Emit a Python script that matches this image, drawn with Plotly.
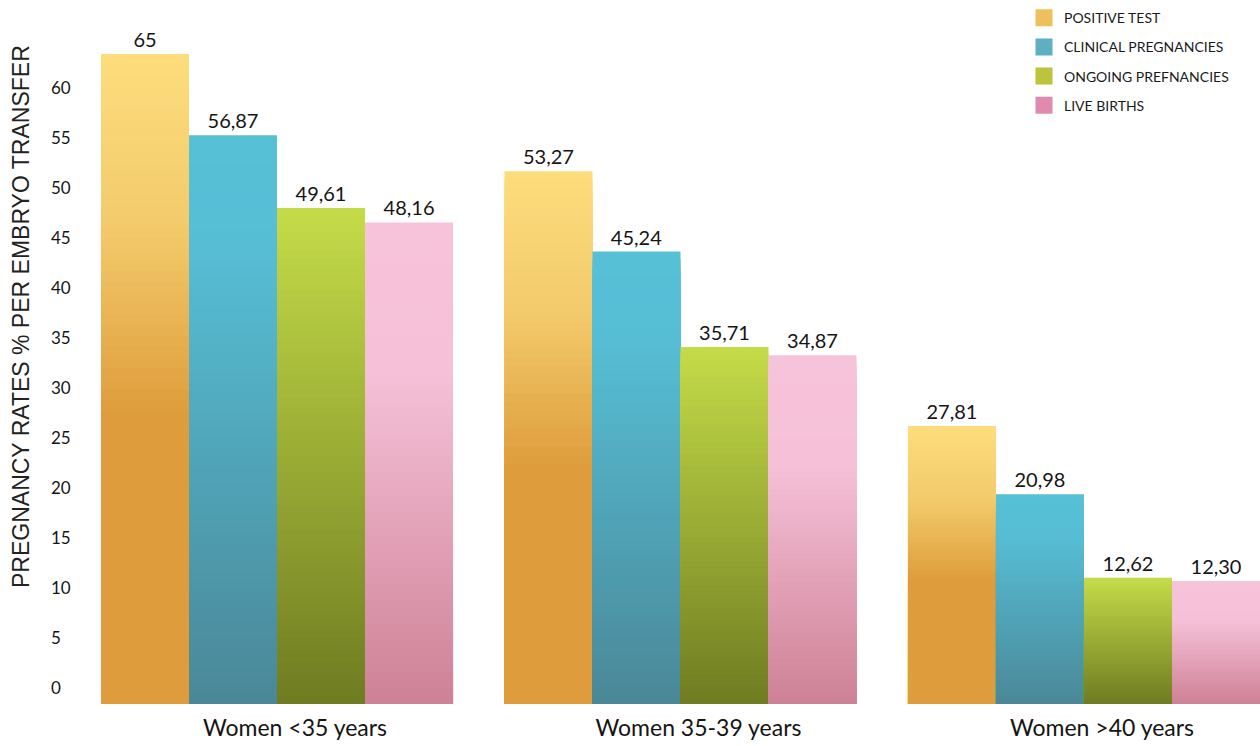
import plotly.graph_objects as go

# ---------------- data ----------------
categories = ["Women <35 years", "Women 35-39 years", "Women >40 years"]
positive_test = [65, 53.27, 27.81]
clinical_pregnancies = [56.87, 45.24, 20.98]
ongoing_pregnancies = [49.61, 35.71, 12.62]
live_births = [48.16, 34.87, 12.30]
series_names = ["POSITIVE TEST", "CLINICAL PREGNANCIES", "ONGOING PREFNANCIES", "LIVE BIRTHS"]
y_tick_values = [0, 5, 10, 15, 20, 25, 30, 35, 40, 45, 50, 55, 60]
y_title = "PREGNANCY RATES % PER EMBRYO TRANSFER"

series_values = [positive_test, clinical_pregnancies, ongoing_pregnancies, live_births]

# ---------------- styles ----------------
# vertical gradient stops: (fraction from bar top, colour)
gradients = [
    [(0.0, "#FDDC7C"), (0.25, "#F3CB6C"), (0.55, "#DE9C3C"), (1.0, "#DE9C3C")],
    [(0.0, "#56C0D7"), (0.2, "#56BDD4"), (1.0, "#4A8797")],
    [(0.0, "#C4DB48"), (1.0, "#6E7B21")],
    [(0.0, "#F7C3DA"), (0.3, "#F6C1D8"), (1.0, "#CD8095")],
]
legend_colors = ["#EFBF5E", "#5EAFC0", "#BCC43A", "#E18AB0"]
N_BANDS = 60
FONT_NUM = "Lato, 'Open Sans', sans-serif"


def hex_to_rgb(h):
    h = h.lstrip("#")
    return tuple(int(h[i:i + 2], 16) for i in (0, 2, 4))


def grad_color(stops, f):
    for (f0, c0), (f1, c1) in zip(stops[:-1], stops[1:]):
        if f0 <= f <= f1:
            t = 0 if f1 == f0 else (f - f0) / (f1 - f0)
            a, b = hex_to_rgb(c0), hex_to_rgb(c1)
            r, g, bb = (round(a[i] + (b[i] - a[i]) * t) for i in range(3))
            return f"rgb({r},{g},{bb})"
    return stops[-1][1]


def fmt(v):
    if float(v).is_integer():
        return str(int(v))
    return f"{v:.2f}".replace(".", ",")


fig = go.Figure()

for si, (name, vals) in enumerate(zip(series_names, series_values)):
    grp = f"s{si}"
    for k in range(N_BANDS):
        frac = k / N_BANDS
        keep = 1 - frac
        fig.add_trace(go.Bar(
            x=categories,
            y=[v * keep for v in vals],
            offsetgroup=grp,
            legendgroup=grp,
            showlegend=False,
            marker=dict(color=grad_color(gradients[si], frac), line=dict(width=0)),
            text=[fmt(v) for v in vals] if k == 0 else None,
            textposition="outside" if k == 0 else "none",
            textfont=dict(family=FONT_NUM, size=20, color="#151515"),
            cliponaxis=False,
            hoverinfo="skip" if k > 0 else "x+y+name",
            name=name,
        ))
    # legend entry
    fig.add_trace(go.Bar(
        x=[None], y=[None],
        name=name,
        offsetgroup=grp,
        legendgroup=grp,
        showlegend=True,
        marker=dict(color=legend_colors[si], line=dict(width=5, color=legend_colors[si])),
        hoverinfo="skip",
    ))

fig.update_layout(
    width=1260,
    height=746,
    margin=dict(l=0, r=0, t=0, b=42, pad=0),
    paper_bgcolor="white",
    plot_bgcolor="white",
    barmode="group",
    bargap=0.1276,
    bargroupgap=0,
    font=dict(family=FONT_NUM, color="#151515"),
    showlegend=True,
    legend=dict(
        x=1024 / 1260, xanchor="left",
        y=0.997, yanchor="top",
        orientation="v",
        font=dict(family=FONT_NUM, size=14, color="#1a1a1a"),
        tracegroupgap=8,
        bgcolor="rgba(0,0,0,0)",
    ),
    xaxis=dict(
        type="category",
        range=[-0.6865, 2.4362],
        showgrid=False, zeroline=False, showline=False,
        ticks="",
        tickfont=dict(family=FONT_NUM, size=23, color="#151515"),
        ticklabelstandoff=8,
        ticklabelshift=18,
        fixedrange=True,
    ),
    yaxis=dict(
        range=[0, 70.4],
        side="right",
        anchor="free",
        position=48 / 1260,
        tickmode="array",
        tickvals=y_tick_values,
        ticktext=[str(t) for t in y_tick_values],
        ticks="",
        ticklabelstandoff=2,
        ticklabelshift=-16,
        tickfont=dict(family=FONT_NUM, size=17, color="#151515"),
        showgrid=False, zeroline=False, showline=False,
        fixedrange=True,
    ),
    annotations=[dict(
        text=y_title,
        xref="paper", yref="paper",
        x=21 / 1260, y=(704 - 317) / 704,
        xanchor="center", yanchor="middle",
        textangle=-90,
        showarrow=False,
        font=dict(family="Liberation Sans, Arial, sans-serif", size=23, color="#222222"),
    )],
)

fig.write_html("out.html")
